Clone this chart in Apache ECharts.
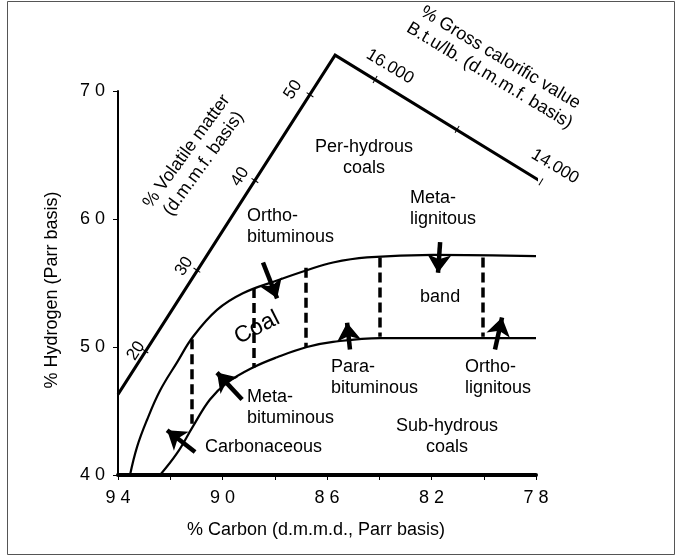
<!DOCTYPE html>
<html>
<head>
<meta charset="utf-8">
<style>
  html, body { margin: 0; padding: 0; background: #fff; }
  #chart { width: 677px; height: 559px; }
</style>
<script src="https://cdn.jsdelivr.net/npm/echarts@6/dist/echarts.min.js"></script>
</head>
<body>
<div id="chart"></div>
<script>
// axis ticks
const carbonTicks = [94, 90, 86, 82, 78]
const carbonTickLabels = ['9 4', '9 0', '8 6', '8 2', '7 8']
const hydrogenTicks = [4, 5, 6, 7]
const hydrogenTickLabels = ['4 0', '5 0', '6 0', '7 0']

// coal band edges (% C, % H)
const upperCarbon = [93.54, 93.27, 92.89, 92.39, 91.74, 91.13, 90.21, 89.22, 87.91, 86.77, 85.77, 84.47, 81.94, 78.0]
const upperHydrogen = [4.00, 4.22, 4.43, 4.66, 4.88, 5.08, 5.29, 5.42, 5.52, 5.60, 5.66, 5.70, 5.72, 5.71]
const lowerCarbon = [92.39, 91.74, 91.13, 90.48, 89.83, 88.83, 87.91, 86.77, 85.77, 83.97, 78.0]
const lowerHydrogen = [4.00, 4.17, 4.38, 4.59, 4.72, 4.84, 4.92, 5.00, 5.04, 5.07, 5.07]

// dashed class dividers
const dividerCarbon = [91.18, 88.82, 86.81, 83.97, 80.04]
const dividerTop = [5.06, 5.46, 5.62, 5.70, 5.70]
const dividerBottom = [4.40, 4.84, 5.00, 5.08, 5.08]

// volatile matter / calorific value boundary
const boundaryCarbon = [94.0, 85.69, 77.23]
const boundaryHydrogen = [4.63, 7.28, 6.22]

const volatileTickCarbon = [92.97, 90.98, 88.76, 86.65]
const volatileTickHydrogen = [4.97, 5.60, 6.30, 6.97]
const calorificTickCarbon = [84.16, 81.02, 77.81]
const calorificTickHydrogen = [7.09, 6.70, 6.29]

// arrows: tail -> head
const arrowFromCarbon = [88.45, 81.67, 85.12, 79.57, 89.25, 91.05]
const arrowFromHydrogen = [5.66, 5.82, 4.98, 4.98, 4.59, 4.18]
const arrowToCarbon = [87.91, 81.75, 85.23, 79.30, 90.21, 92.12]
const arrowToHydrogen = [5.38, 5.58, 5.19, 5.23, 4.80, 4.35]

// text annotations [text, C, H, align, rotate, size]
const notes = [
  ['% Volatile matter\n(d.m.m.f. basis)', 91.05, 6.48, 'center', 54, 18],
  ['% Gross calorific value\nB.t.u/lb. (d.m.m.f. basis)', 79.57, 7.19, 'center', -31, 18],
  ['16.000', 83.59, 7.19, 'center', -31, 17],
  ['14.000', 77.27, 6.41, 'center', -31, 17],
  ['20', 93.31, 4.97, 'center', 57, 17],
  ['30', 91.47, 5.63, 'center', 57, 17],
  ['40', 89.33, 6.33, 'center', 57, 17],
  ['50', 87.30, 7.01, 'center', 57, 17],
  ['Per-hydrous\ncoals', 84.58, 6.48, 'center', 0, 18],
  ['Ortho-\nbituminous', 89.06, 5.94, 'left', 0, 18],
  ['Meta-\nlignitous', 82.82, 6.08, 'left', 0, 18],
  ['Coal', 88.68, 5.15, 'center', 27, 23],
  ['band', 81.67, 5.39, 'center', 0, 18],
  ['Para-\nbituminous', 85.85, 4.76, 'left', 0, 18],
  ['Ortho-\nlignitous', 80.72, 4.76, 'left', 0, 18],
  ['Sub-hydrous\ncoals', 81.41, 4.30, 'center', 0, 18],
  ['Meta-\nbituminous', 89.06, 4.53, 'left', 0, 18],
  ['Carbonaceous', 90.67, 4.22, 'left', 0, 18],
]

const FONT = "Arial, 'Liberation Sans', sans-serif"
const zip = (a, b) => a.map((v, i) => [v, b[i]])

const chart = echarts.init(document.getElementById('chart'), null, { renderer: 'canvas' })

chart.setOption({
  animation: false,
  backgroundColor: '#fff',
  textStyle: { fontFamily: FONT, color: '#000' },
  graphic: [{
    type: 'rect', silent: true,
    shape: { x: 7.5, y: 1.5, width: 667, height: 553 },
    style: { fill: 'none', stroke: '#555', lineWidth: 1 },
  }],
  grid: { left: 118, right: 141, top: 91, bottom: 84, outerBoundsMode: 'none' },
  xAxis: {
    type: 'value', inverse: true, min: 78, max: 94, interval: 2,
    name: '% Carbon (d.m.m.d., Parr basis)', nameLocation: 'middle', nameGap: 46,
    nameTextStyle: { fontFamily: FONT, fontSize: 18, color: '#000', padding: [0, 22, 0, 0] },
    axisLine: { lineStyle: { color: '#000', width: 4 } },
    axisTick: { length: 5, lineStyle: { color: '#000', width: 1 } },
    axisLabel: {
      fontFamily: FONT, fontSize: 18, color: '#000', margin: 14,
      formatter: v => { const i = carbonTicks.indexOf(v); return i < 0 ? '' : carbonTickLabels[i] },
    },
    splitLine: { show: false },
  },
  yAxis: {
    type: 'value', min: 4, max: 7, interval: 1,
    name: '% Hydrogen (Parr basis)', nameLocation: 'middle', nameGap: 57,
    nameTextStyle: { fontFamily: FONT, fontSize: 18, color: '#000', padding: [0, 14, 0, 0] },
    axisLine: { lineStyle: { color: '#000', width: 2 } },
    axisTick: { length: 5, lineStyle: { color: '#000', width: 1 } },
    axisLabel: {
      fontFamily: FONT, fontSize: 18, color: '#000', margin: 13,
      formatter: v => { const i = hydrogenTicks.indexOf(v); return i < 0 ? '' : hydrogenTickLabels[i] },
    },
    splitLine: { show: false },
  },
  series: [
    {
      type: 'line', data: zip(upperCarbon, upperHydrogen), smooth: 0.4, showSymbol: false,
      lineStyle: { color: '#000', width: 2.2 }, silent: true,
    },
    {
      type: 'line', data: zip(lowerCarbon, lowerHydrogen), smooth: 0.4, showSymbol: false,
      lineStyle: { color: '#000', width: 2.2 }, silent: true,
    },
    {
      type: 'line', data: zip(boundaryCarbon, boundaryHydrogen), showSymbol: false, clip: false,
      lineStyle: { color: '#000', width: 3, join: 'miter' }, silent: true,
    },
    {
      type: 'lines', coordinateSystem: 'cartesian2d', silent: true,
      data: dividerCarbon.map((c, i) => ({ coords: [[c, dividerTop[i]], [c, dividerBottom[i]]] })),
      lineStyle: { color: '#000', width: 3.5, type: [10, 5], opacity: 1 },
    },
    {
      type: 'lines', coordinateSystem: 'cartesian2d', silent: true,
      symbol: ['none', 'arrow'], symbolSize: [17, 18],
      data: arrowFromCarbon.map((c, i) => ({
        coords: [[c, arrowFromHydrogen[i]], [arrowToCarbon[i], arrowToHydrogen[i]]],
      })),
      lineStyle: { color: '#000', width: 4.5, opacity: 1 },
    },
    {
      type: 'scatter', data: zip(volatileTickCarbon, volatileTickHydrogen), silent: true,
      symbol: 'rect', symbolSize: [1, 8], symbolRotate: 57, clip: false,
      itemStyle: { color: '#000', opacity: 1 },
    },
    {
      type: 'scatter', data: zip(calorificTickCarbon, calorificTickHydrogen), silent: true,
      symbol: 'rect', symbolSize: [1, 8], symbolRotate: -31, clip: false,
      itemStyle: { color: '#000', opacity: 1 },
    },
    {
      type: 'scatter', symbolSize: 0, silent: true, clip: false,
      itemStyle: { opacity: 1 },
      data: notes.map(n => ({
        value: [n[1], n[2]],
        label: {
          show: true, position: 'inside', formatter: n[0], align: n[3], verticalAlign: 'middle',
          rotate: n[4], fontSize: n[5], lineHeight: 21, fontFamily: FONT, color: '#000',
        },
      })),
    },
  ],
})
</script>
</body>
</html>
